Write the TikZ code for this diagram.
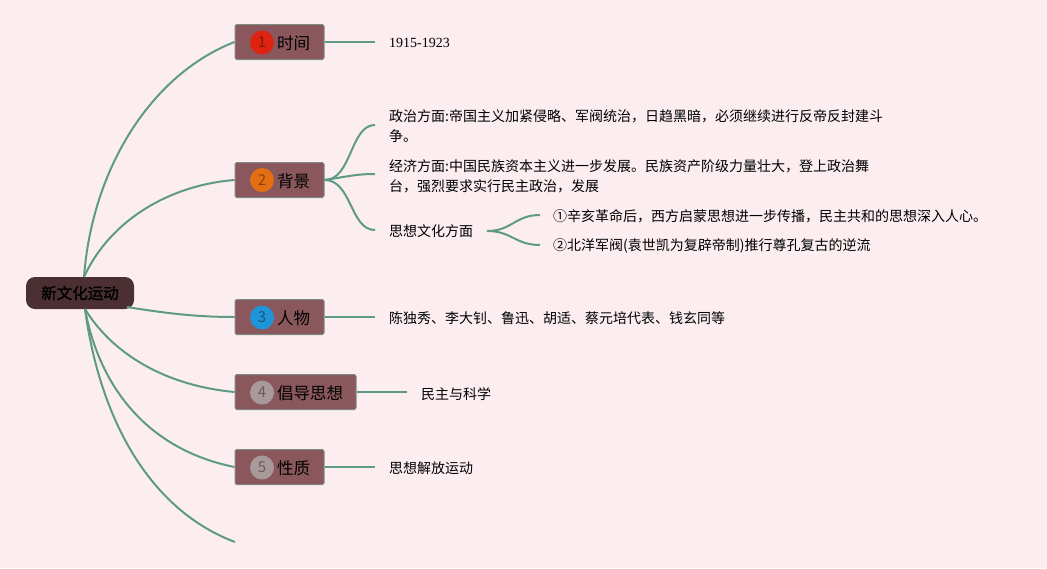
\documentclass[tikz,border=0pt]{standalone}
\usepackage{fontspec}
\newfontfamily\cjk{Noto Sans CJK SC}
\newfontfamily\cjkb{Noto Sans CJK SC}[FakeBold=1.6]
\newfontfamily\serifn{Liberation Serif}
\definecolor{bg}{HTML}{FCEEF0}
\definecolor{edge}{HTML}{5E9A84}
\definecolor{rootc}{HTML}{4B2F33}
\definecolor{boxc}{HTML}{8A585C}
\definecolor{boxb}{HTML}{7D8A84}
\definecolor{c1}{HTML}{DE2410}
\definecolor{c2}{HTML}{E56E12}
\definecolor{c3}{HTML}{2094D8}
\definecolor{c4}{HTML}{A89A9A}
\tikzset{
  link/.style={draw=edge, line width=2pt},
  rootbox/.style={fill=rootc, rounded corners=9pt, minimum width=108pt, minimum height=32pt, inner sep=0pt, font=\cjkb\fontsize{15.5}{18}\selectfont, text=black},
  branch/.style={fill=boxc, draw=boxb, line width=1pt, rounded corners=1.5pt, minimum height=35pt, inner sep=0pt},
  numc/.style={circle, fill=#1, minimum size=24pt, inner sep=0pt, text=#1!60!black, font=\cjk\fontsize{15}{18}\selectfont},
  blabel/.style={anchor=west, inner sep=0pt, font=\cjk\fontsize{16.5}{18}\selectfont, text=black},
  leaf/.style={anchor=west, inner sep=0pt, align=left, font=\cjk\fontsize{14}{20}\selectfont, text=black},
}
\begin{document}
\begin{tikzpicture}[x=1pt,y=-1pt]
\fill[bg] (0,0) rectangle (1047,568);
\useasboundingbox (0,0) rectangle (1047,568);

% root
\node[rootbox] (root) at (80,293) {新文化运动};
\coordinate (rtop) at (84,277);
\coordinate (rbot) at (85,309);
\coordinate (rright) at (127,307);

% branch boxes
\node[branch, minimum width=89pt] (b1) at (279.5,42) {};
\node[branch, minimum width=89pt] (b2) at (279.5,180) {};
\node[branch, minimum width=89pt] (b3) at (279.5,317) {};
\node[branch, minimum width=121pt] (b4) at (295.5,392) {};
\node[branch, minimum width=89pt] (b5) at (279.5,467) {};
\coordinate (tail) at (235,542);

\node[numc=c1] (n1) at (262,42.5) {1};
\node[blabel] (l1) at (277,43) {时间};
\node[numc=c2] (n2) at (262,180) {2};
\node[blabel] (l2) at (277,181) {背景};
\node[numc=c3] (n3) at (262,317.5) {3};
\node[blabel] (l3) at (277,318) {人物};
\node[numc=c4] (n4) at (262,392.5) {4};
\node[blabel] (l4) at (277,393) {倡导思想};
\node[numc=c4] (n5) at (262,467.5) {5};
\node[blabel] (l5) at (277,468) {性质};

% root links
\draw[link] (rtop) .. controls (92,170) and (150,75) .. (b1.west);
\draw[link] (rtop) .. controls (110,220) and (170,185) .. (b2.west);
\draw[link] (rright) .. controls (170,314) and (200,317) .. (b3.west);
\draw[link] (rbot) .. controls (110,350) and (160,385) .. (b4.west);
\draw[link] (rbot) .. controls (100,390) and (150,450) .. (b5.west);
\draw[link] (rbot) .. controls (100,420) and (150,510) .. (tail);

% leaves
\node[leaf, font=\serifn\fontsize{14}{16}\selectfont] (t1) at (389,43) {1915-1923};
\draw[link] (b1.east) -- (375,42);

\node[leaf] (p1) at (389,126) {政治方面:帝国主义加紧侵略、军阀统治，日趋黑暗，必须继续进行反帝反封建斗\\争。};
\node[leaf] (p2) at (389,176) {经济方面:中国民族资本主义进一步发展。民族资产阶级力量壮大，登上政治舞\\台，强烈要求实行民主政治，发展};
\node[leaf] (p3) at (389,231) {思想文化方面};
\draw[link] (b2.east) .. controls (352,180) and (350,125) .. (375,125);
\draw[link] (b2.east) .. controls (345,177) and (355,174) .. (375,174);
\draw[link] (b2.east) .. controls (352,180) and (350,230) .. (375,230);

\node[leaf] (q1) at (553,216) {①辛亥革命后，西方启蒙思想进一步传播，民主共和的思想深入人心。};
\node[leaf] (q2) at (553,246) {②北洋军阀(袁世凯为复辟帝制)推行尊孔复古的逆流};
\draw[link] (487,231) .. controls (512,231) and (515,215) .. (540,215);
\draw[link] (487,231) .. controls (512,231) and (515,245) .. (540,245);

\node[leaf] (t3) at (389,318) {陈独秀、李大钊、鲁迅、胡适、蔡元培代表、钱玄同等};
\draw[link] (b3.east) -- (375,317);
\node[leaf] (t4) at (421,394) {民主与科学};
\draw[link] (b4.east) -- (407,392);
\node[leaf] (t5) at (389,468) {思想解放运动};
\draw[link] (b5.east) -- (375,467);
\end{tikzpicture}
\end{document}
